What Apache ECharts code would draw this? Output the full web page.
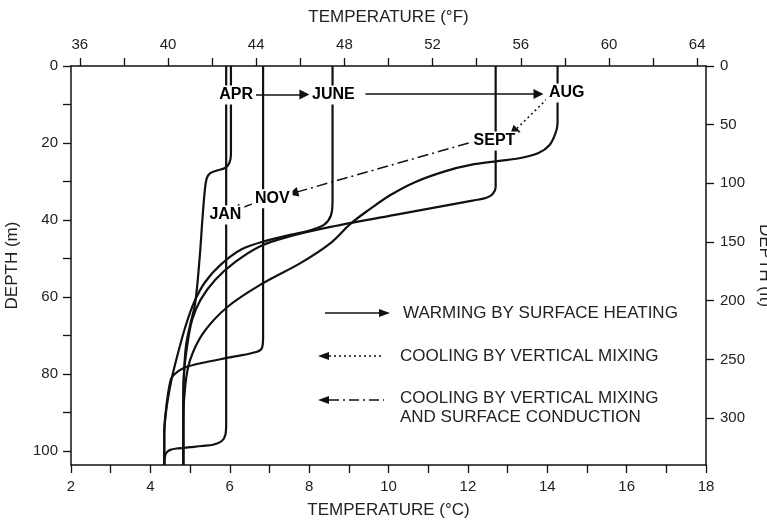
<!DOCTYPE html>
<html><head><meta charset="utf-8">
<script src="https://cdn.jsdelivr.net/npm/echarts@6/dist/echarts.min.js"></script>
<style>html,body{margin:0;padding:0;background:#fff}#c{width:767px;height:522px}</style>
</head><body><div id="c"></div>
<script>
// ---- tick values / labels ----
const cTicks = [2,3,4,5,6,7,8,9,10,11,12,13,14,15,16,17,18];
const cLabels = [2,4,6,8,10,12,14,16,18];
const fTicks = [36,38,40,42,44,46,48,50,52,54,56,58,60,62,64];
const fLabels = [36,40,44,48,52,56,60,64];
const mTicks = [0,10,20,30,40,50,60,70,80,90,100];
const mLabels = [0,20,40,60,80,100];
const ftTicks = [0,50,100,150,200,250,300];
const ftLabels = [0,50,100,150,200,250,300];
const depthMax = 103.63; // 340 ft

// ---- temperature profiles (°C vs depth m) ----
const janT = [5.91,5.91,5.89,5.80,5.60,5.30,5.00,4.70,4.50,4.40,4.36,4.35];
const janD = [0,93.0,95.8,97.4,98.3,98.7,99.0,99.3,99.7,100.5,101.8,103.6];

const aprT = [6.03,6.03,5.99,5.88,5.66,5.50,5.42,5.37,5.31,5.24,5.13,5.00,4.90,4.85,4.83,4.83];
const aprD = [0,22.9,25.2,26.5,27.2,27.9,29.2,32.5,40,50,61.5,67.3,72.5,79.0,86.8,103.6];

const juneT = [8.59,8.59,8.55,8.38,8.05,7.55,6.95,6.30,5.76,5.38,5.10,4.88,4.67,4.52,4.40,4.35,4.35];
const juneD = [0,35.0,38.8,41.2,42.6,43.8,45.3,47.6,51.7,56.1,61.4,67.8,75.6,82.1,89.4,95.8,103.6];

const augT = [14.26,14.26,14.21,14.06,13.78,13.33,12.75,12.07,11.44,10.68,10.05,9.54,9.04,8.54,7.78,6.84,5.94,5.33,5.00,4.88,4.83,4.83];
const augD = [0,14.8,17.4,20.5,22.6,23.9,24.7,25.7,27.3,30.1,33.5,37.1,41.0,46.0,51.2,56.4,62.6,69.4,76.4,82.9,91.9,103.6];

const septT = [12.70,12.70,12.62,12.45,12.15,10.30,8.54,7.53,6.77,6.14,5.63,5.26,5.05,4.93,4.85,4.83,4.83];
const septD = [0,31.5,33.3,34.3,34.9,38.4,41.8,44.2,46.8,50.9,55.6,60.8,66.0,72.5,79.5,86.8,103.6];

const novT = [6.84,6.84,6.81,6.69,6.10,5.26,4.83,4.58,4.50,4.40,4.35,4.35];
const novD = [0,70.5,73.3,74.2,75.5,77.2,78.5,80.3,82.0,88.6,95.3,103.6];

// ---- month labels (T, depth) ----
const monthNames = ['APR','JUNE','AUG','SEPT','NOV','JAN'];
const monthT = [6.16,8.61,14.49,12.67,7.07,5.89];
const monthD = [7.5,7.5,7.0,19.5,34.5,38.7];

// ---- arrows between months (T1,D1 -> T2,D2) ----
const warmArrows = [[6.64,7.4,7.88,7.4],[9.42,7.3,13.78,7.3]];
const mixArrows = [[13.99,8.6,13.15,17.1]];
const condArrows = [[12.02,20.0,7.60,33.0],[6.57,35.8,6.16,37.4]];

const FONT = "'Liberation Sans', Arial, Helvetica, sans-serif";
const INK = '#111';
const c2f = c => c*1.8+32, f2c = f => (f-32)/1.8;
const ft2m = f => f*0.3048;

function prof(T,D){ return T.map((t,i)=>[t,D[i]]); }
function lineSeries(name,T,D){
  return {type:'line', name, data:prof(T,D), symbol:'none', smooth:0.35,
    lineStyle:{color:INK,width:2.2}, z:2, silent:true};
}
function arrowSeries(arr,type){
  return {type:'lines', coordinateSystem:'cartesian2d', xAxisIndex:0, yAxisIndex:0,
    symbol:['none','triangle'], symbolSize:[0,10], z:6, silent:true,
    lineStyle:{color:INK,width:1.5,type,opacity:1},
    data: arr.map(a=>({coords:[[a[0],a[1]],[a[2],a[3]]]}))};
}
const axLine = {show:true, onZero:false, lineStyle:{color:INK,width:1.5}};
const tickSt = {show:true, inside:false, length:8, lineStyle:{color:INK,width:1.3}};
const lblSt = {color:'#222', fontFamily:FONT, fontSize:15};
const nameSt = {color:'#222', fontFamily:FONT, fontSize:17};

const chart = echarts.init(document.getElementById('c'), null, {renderer:'canvas'});
chart.setOption({
  animation:false,
  backgroundColor:'#fff',
  grid:{left:71,right:61,top:66,bottom:57,containLabel:false,outerBoundsMode:'none'},
  xAxis:[
    {type:'value', position:'bottom', min:2, max:18,
     axisLine:axLine, splitLine:{show:false},
     axisTick:Object.assign({customValues:cTicks},tickSt),
     axisLabel:Object.assign({customValues:cLabels, margin:14},lblSt),
     name:'TEMPERATURE (°C)', nameLocation:'middle', nameGap:37, nameTextStyle:nameSt},
    {type:'value', position:'top', min:2, max:18,
     axisLine:axLine, splitLine:{show:false},
     axisTick:Object.assign({customValues:fTicks.map(f2c)},tickSt),
     axisLabel:Object.assign({customValues:fLabels.map(f2c), margin:14,
        formatter:v=>String(Math.round(c2f(v)))},lblSt),
     name:'TEMPERATURE (°F)', nameLocation:'middle', nameGap:40, nameTextStyle:nameSt}
  ],
  yAxis:[
    {type:'value', position:'left', inverse:true, min:0, max:depthMax,
     axisLine:axLine, splitLine:{show:false},
     axisTick:Object.assign({customValues:mTicks},tickSt),
     axisLabel:Object.assign({customValues:mLabels, margin:13},lblSt),
     name:'DEPTH (m)', nameLocation:'middle', nameGap:50, nameRotate:90, nameTextStyle:nameSt},
    {type:'value', position:'right', inverse:true, min:0, max:depthMax,
     axisLine:axLine, splitLine:{show:false},
     axisTick:Object.assign({customValues:ftTicks.map(ft2m)},tickSt),
     axisLabel:Object.assign({customValues:ftLabels.map(ft2m), margin:14,
        formatter:v=>String(Math.round(v/0.3048))},lblSt),
     name:'DEPTH (ft)', nameLocation:'middle', nameGap:48, nameRotate:-90, nameTextStyle:nameSt}
  ],
  series:[
    lineSeries('JAN',janT,janD),
    lineSeries('APR',aprT,aprD),
    lineSeries('JUNE',juneT,juneD),
    lineSeries('AUG',augT,augD),
    lineSeries('SEPT',septT,septD),
    lineSeries('NOV',novT,novD),
    arrowSeries(warmArrows,'solid'),
    arrowSeries(mixArrows,[2,3]),
    arrowSeries(condArrows,[11,4,2,4]),
    {type:'scatter', z:10, silent:true, symbolSize:1, itemStyle:{color:'#fff'},
     data: monthNames.map((n,i)=>({name:n, value:[monthT[i],monthD[i]]})),
     label:{show:true, position:'inside', formatter:'{b}', color:'#000', fontFamily:FONT,
       fontSize:16, fontWeight:'bold', backgroundColor:'#fff', padding:[2,3,1,3],
       textBorderWidth:0, opacity:1}}
  ],
  graphic:[
    {type:'line', shape:{x1:325,y1:313,x2:382,y2:313}, style:{stroke:INK,lineWidth:1.6}},
    {type:'polygon', shape:{points:[[379,309],[390,313],[379,317]]}, style:{fill:INK}},
    {type:'text', x:403, y:313, style:{text:'WARMING BY SURFACE HEATING', fill:'#222',
      font:'17px '+FONT, verticalAlign:'middle'}},
    {type:'polygon', shape:{points:[[318,356],[329,352],[329,360]]}, style:{fill:INK}},
    {type:'line', shape:{x1:329,y1:356,x2:384,y2:356}, style:{stroke:INK,lineWidth:1.6,lineDash:[2,3]}},
    {type:'text', x:400, y:356, style:{text:'COOLING BY VERTICAL MIXING', fill:'#222',
      font:'17px '+FONT, verticalAlign:'middle'}},
    {type:'polygon', shape:{points:[[318,400],[329,396],[329,404]]}, style:{fill:INK}},
    {type:'line', shape:{x1:329,y1:400,x2:384,y2:400}, style:{stroke:INK,lineWidth:1.6,lineDash:[10,4,2,4]}},
    {type:'text', x:400, y:389, style:{text:'COOLING BY VERTICAL MIXING\nAND SURFACE CONDUCTION', fill:'#222',
      font:'17px '+FONT, verticalAlign:'top', lineHeight:19}}
  ]
});
</script></body></html>
